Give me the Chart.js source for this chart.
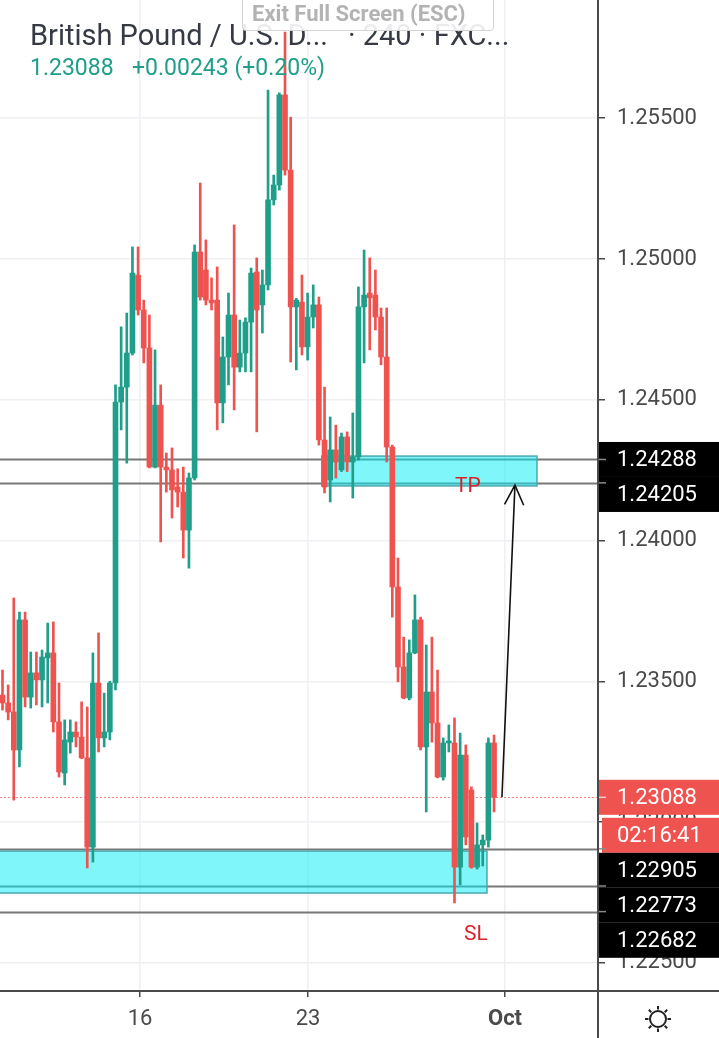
<!DOCTYPE html>
<html>
<head>
<meta charset="utf-8">
<script src="https://cdn.jsdelivr.net/npm/chart.js@4.4.1/dist/chart.umd.min.js"></script>
<style>
  html, body { margin: 0; padding: 0; background: #fff; }
  #wrap { position: relative; width: 719px; height: 1038px; overflow: hidden; font-family: Roboto, sans-serif; }
  #chart { position: absolute; left: 0; top: 0; }
  .txt { position: absolute; white-space: pre; line-height: 1; }
  #title1 { left: 30px; top: 21px; font-size: 29px; color: #363a45; }
  #title2 { left: 348px; top: 21px; font-size: 29px; color: #363a45; }
  #price { left: 30px; top: 56px; font-size: 23px; color: #1f9e89; }
  #change { left: 132px; top: 56px; font-size: 23px; color: #1f9e89; }
  #exit { position: absolute; left: 242px; top: -10px; width: 252px; height: 41px; box-sizing: border-box;
          border: 1.5px solid #d4d4d4; border-radius: 4px; background: rgba(255,255,255,0.9); }
  #exit span { position: absolute; left: 9px; top: 12px; font-size: 22px; font-weight: bold; color: #b3b3b3; line-height: 1; white-space: pre; }
</style>
</head>
<body>
<div id="wrap">
  <canvas id="chart" width="719" height="1038"></canvas>
  <div class="txt" id="title1">British Pound / U.S. D...</div>
  <div class="txt" id="title2">· 240 · FXC...</div>
  <div class="txt" id="price">1.23088</div>
  <div class="txt" id="change">+0.00243 (+0.20%)</div>
  <div id="exit"><span>Exit Full Screen (ESC)</span></div>
</div>
<script>
// GBP/USD 4h candles, oldest first
const openPrices = [
  1.23451, 1.23423, 1.23391, 1.23256, 1.23718, 1.23444, 1.23530, 1.23505, 1.23583, 1.23601,
  1.23356, 1.23174, 1.23284, 1.23320, 1.23302, 1.23228, 1.22911, 1.23494, 1.23299, 1.23320,
  1.23494, 1.24492, 1.24545, 1.24666, 1.24943, 1.24819, 1.24684, 1.24261, 1.24481, 1.24261,
  1.24251, 1.24190, 1.24172, 1.24037, 1.24222, 1.25025, 1.24961, 1.24854, 1.24854, 1.24489,
  1.24652, 1.24801, 1.24616, 1.24666, 1.24776, 1.24954, 1.24837, 1.24908, 1.25210, 1.25263,
  1.25583, 1.25316, 1.24830, 1.24847, 1.24688, 1.24794, 1.24837, 1.24357, 1.24215, 1.24322,
  1.24251, 1.24368, 1.24279, 1.24297, 1.24830, 1.24879, 1.24872, 1.24794, 1.24652, 1.24332,
  1.23835, 1.23551, 1.23441, 1.23601, 1.23718, 1.23267, 1.23462, 1.23352, 1.23160, 1.23281,
  1.23281, 1.22840, 1.23238, 1.23114, 1.22840, 1.22919, 1.22936, 1.23281
];
const highPrices = [
  1.23540, 1.23487, 1.23796, 1.23746, 1.23746, 1.23604, 1.23604, 1.23611, 1.23707, 1.23711,
  1.23494, 1.23363, 1.23363, 1.23356, 1.23427, 1.23409, 1.23601, 1.23672, 1.23458, 1.23500,
  1.24553, 1.24759, 1.24808, 1.25043, 1.25043, 1.24854, 1.24801, 1.24677, 1.24553, 1.24311,
  1.24329, 1.24255, 1.24261, 1.24240, 1.25050, 1.25270, 1.25068, 1.24933, 1.24972, 1.24723,
  1.24879, 1.25121, 1.24783, 1.24791, 1.24968, 1.25004, 1.24961, 1.25600, 1.25298, 1.25590,
  1.25806, 1.25504, 1.24860, 1.24943, 1.24879, 1.24908, 1.24865, 1.24545, 1.24439, 1.24410,
  1.24382, 1.24386, 1.24453, 1.24901, 1.25032, 1.25004, 1.24961, 1.24826, 1.24826, 1.24339,
  1.23938, 1.23657, 1.23647, 1.23807, 1.23728, 1.23629, 1.23657, 1.23540, 1.23299, 1.23345,
  1.23370, 1.23316, 1.23274, 1.23125, 1.22997, 1.22954, 1.23299, 1.23309
];
const lowPrices = [
  1.23398, 1.23363, 1.23078, 1.23196, 1.23409, 1.23405, 1.23416, 1.23409, 1.23423, 1.23320,
  1.23160, 1.23132, 1.23245, 1.23267, 1.23225, 1.22837, 1.22858, 1.23249, 1.23267, 1.23292,
  1.23469, 1.24393, 1.24275, 1.24659, 1.24801, 1.24631, 1.24258, 1.24258, 1.23995, 1.24172,
  1.24080, 1.24119, 1.23938, 1.23902, 1.24215, 1.24854, 1.24837, 1.24819, 1.24393, 1.24418,
  1.24553, 1.24464, 1.24599, 1.24599, 1.24599, 1.24386, 1.24737, 1.24890, 1.25192, 1.25245,
  1.25298, 1.24634, 1.24606, 1.24659, 1.24641, 1.24755, 1.24339, 1.24169, 1.24137, 1.24222,
  1.24245, 1.24245, 1.24151, 1.24286, 1.24631, 1.24677, 1.24748, 1.24624, 1.24279, 1.23728,
  1.23498, 1.23438, 1.23434, 1.23598, 1.23256, 1.23036, 1.23284, 1.23157, 1.23149, 1.23249,
  1.22713, 1.22777, 1.22919, 1.22836, 1.22833, 1.22844, 1.22911, 1.23036
];
const closePrices = [
  1.23423, 1.23391, 1.23256, 1.23718, 1.23444, 1.23530, 1.23505, 1.23586, 1.23601, 1.23356,
  1.23178, 1.23292, 1.23320, 1.23302, 1.23228, 1.22911, 1.23494, 1.23299, 1.23320, 1.23494,
  1.24492, 1.24545, 1.24666, 1.24950, 1.24819, 1.24684, 1.24261, 1.24481, 1.24261, 1.24251,
  1.24180, 1.24172, 1.24037, 1.24222, 1.25025, 1.24865, 1.24854, 1.24844, 1.24489, 1.24652,
  1.24801, 1.24616, 1.24666, 1.24776, 1.24950, 1.24819, 1.24908, 1.25210, 1.25263, 1.25583,
  1.25316, 1.24830, 1.24854, 1.24688, 1.24794, 1.24837, 1.24357, 1.24190, 1.24322, 1.24279,
  1.24368, 1.24279, 1.24297, 1.24830, 1.24872, 1.24862, 1.24794, 1.24652, 1.24332, 1.23835,
  1.23551, 1.23441, 1.23601, 1.23718, 1.23267, 1.23462, 1.23352, 1.23160, 1.23281, 1.23285,
  1.22840, 1.23238, 1.22947, 1.22840, 1.22919, 1.22936, 1.23281, 1.23088
];

// time axis: candle-index positions of the date ticks
const dateTicks = [24.34, 54.07, 88.94];
const dateLabels = ['16', '23', 'Oct'];
const priceTicks = [1.225, 1.230, 1.235, 1.240, 1.245, 1.250, 1.255];

// drawn levels
const levelPrices = [1.24288, 1.24205, 1.22905, 1.22773, 1.22682];
const lastPrice = 1.23088;
const countdown = '02:16:41';
const tpZone = {from: 56.5, to: 94.6, top: 1.24300, bottom: 1.24194};
const slZone = {from: -2, to: 85.75, top: 1.22897, bottom: 1.22748};
const arrowFrom = {x: 88.4, y: 1.23088};
const arrowTo = {x: 90.7, y: 1.24197};

const UP = '#1f9e89', DOWN = '#ef5350';
const idx = openPrices.map((_, i) => i);
const colors = idx.map(i => closePrices[i] >= openPrices[i] ? UP : DOWN);

const overlay = {
    id: 'overlay',
    beforeDatasetsDraw(chart) {
        const {ctx, chartArea: a, scales: {x, y}} = chart;
        ctx.save();
        ctx.beginPath();
        ctx.rect(a.left, a.top, a.right - a.left, a.bottom - a.top);
        ctx.clip();
        // level lines
        ctx.strokeStyle = '#787878';
        ctx.lineWidth = 2;
        levelPrices.forEach(p => {
            const py = Math.round(y.getPixelForValue(p)) + 0.5;
            ctx.beginPath(); ctx.moveTo(a.left, py); ctx.lineTo(a.right, py); ctx.stroke();
        });
        // zones
        [tpZone, slZone].forEach(z => {
            const x0 = x.getPixelForValue(z.from), x1 = x.getPixelForValue(z.to);
            const y0 = y.getPixelForValue(z.top), y1 = y.getPixelForValue(z.bottom);
            ctx.fillStyle = 'rgba(0, 238, 245, 0.5)';
            ctx.fillRect(x0, y0, x1 - x0, y1 - y0);
            ctx.strokeStyle = '#4aa9b0';
            ctx.lineWidth = 1.5;
            ctx.strokeRect(x0, y0, x1 - x0, y1 - y0);
        });
        // last price dotted line
        const ly = Math.round(y.getPixelForValue(lastPrice)) + 0.5;
        ctx.strokeStyle = '#f08a86';
        ctx.lineWidth = 1;
        ctx.setLineDash([2, 2]);
        ctx.beginPath(); ctx.moveTo(a.left, ly); ctx.lineTo(a.right, ly); ctx.stroke();
        ctx.restore();
    },
    afterDraw(chart) {
        const {ctx, chartArea: a, scales: {x, y}} = chart;
        const W = chart.width, H = chart.height;
        ctx.save();
        // arrow
        const ax0 = x.getPixelForValue(arrowFrom.x), ay0 = y.getPixelForValue(arrowFrom.y);
        const ax1 = x.getPixelForValue(arrowTo.x), ay1 = y.getPixelForValue(arrowTo.y);
        ctx.strokeStyle = '#111';
        ctx.lineWidth = 1.6;
        ctx.beginPath(); ctx.moveTo(ax0, ay0); ctx.lineTo(ax1, ay1); ctx.stroke();
        const ang = Math.atan2(ay0 - ay1, ax0 - ax1);
        ctx.beginPath();
        ctx.moveTo(ax1 + 22 * Math.cos(ang - 0.45), ay1 + 22 * Math.sin(ang - 0.45));
        ctx.lineTo(ax1, ay1);
        ctx.lineTo(ax1 + 22 * Math.cos(ang + 0.45), ay1 + 22 * Math.sin(ang + 0.45));
        ctx.stroke();
        // TP / SL
        ctx.fillStyle = '#d8232a';
        ctx.font = '21px Roboto';
        ctx.textBaseline = 'middle';
        ctx.fillText('TP', 455, y.getPixelForValue(tpZone.bottom) + 1);
        ctx.fillText('SL', 464, 935);

        // axis lines extended
        ctx.strokeStyle = '#4a4a4a';
        ctx.lineWidth = 2;
        ctx.beginPath(); ctx.moveTo(0, a.bottom); ctx.lineTo(W, a.bottom); ctx.stroke();
        ctx.beginPath(); ctx.moveTo(a.right, 0); ctx.lineTo(a.right, H); ctx.stroke();

        // right-axis labels
        const h = 35;
        const label = (txt, cy, bg, x0, tickY) => {
            ctx.fillStyle = bg;
            ctx.fillRect(x0, cy - h / 2, W - x0, h);
            ctx.strokeStyle = bg === '#000' ? '#8a8a8a' : '#f7c6c5';
            ctx.lineWidth = 1.5;
            if (tickY !== null) {
                ctx.beginPath(); ctx.moveTo(a.right + 1, tickY); ctx.lineTo(a.right + 8, tickY); ctx.stroke();
            }
            ctx.fillStyle = '#fff';
            ctx.font = '22px Roboto';
            ctx.textBaseline = 'middle';
            ctx.fillText(txt, 617, cy + 1);
        };
        let bottom = -1e9;
        const place = p => {
            const py = y.getPixelForValue(p);
            const cy = Math.max(py, bottom + h / 2);
            bottom = cy + h / 2;
            return [cy, py];
        };
        const above = levelPrices.filter(p => p > lastPrice).sort((m, n) => n - m);
        const below = levelPrices.filter(p => p < lastPrice).sort((m, n) => n - m);
        above.forEach(p => { const [cy, py] = place(p); label(p.toFixed(5), cy, '#000', a.right + 1, py); });
        const [lc, lp] = place(lastPrice);
        label(lastPrice.toFixed(5), lc, '#ef5350', a.right + 1, lp);
        const cc = lc + h + 3;
        label(countdown, cc, '#ef5350', a.right + 4, null);
        bottom = cc + h / 2;
        below.forEach(p => { const [cy, py] = place(p); label(p.toFixed(5), cy, '#000', a.right + 1, py); });

        // settings icon
        const gx = 658, gy = 1019;
        ctx.strokeStyle = '#222';
        ctx.lineWidth = 2;
        ctx.beginPath(); ctx.arc(gx, gy, 8, 0, Math.PI * 2); ctx.stroke();
        for (let k = 0; k < 8; k++) {
            const t = k * Math.PI / 4;
            ctx.beginPath();
            ctx.moveTo(gx + 9.5 * Math.cos(t), gy + 9.5 * Math.sin(t));
            ctx.lineTo(gx + 13 * Math.cos(t), gy + 13 * Math.sin(t));
            ctx.stroke();
        }
        ctx.restore();
    }
};

new Chart(document.getElementById('chart'), {
    type: 'bar',
    data: {
        datasets: [{
            label: 'body',
            data: idx.map(i => ({x: i, y: [openPrices[i], closePrices[i]]})),
            backgroundColor: colors,
            barThickness: 5,
            minBarLength: 2,
            grouped: false
        }, {
            label: 'wick',
            data: idx.map(i => ({x: i, y: [lowPrices[i], highPrices[i]]})),
            backgroundColor: colors,
            barThickness: 2,
            grouped: false
        }]
    },
    options: {
        responsive: false,
        animation: false,
        layout: {padding: 0},
        plugins: {legend: {display: false}, tooltip: {enabled: false}},
        scales: {
            x: {
                type: 'linear',
                min: -0.4425,
                max: 105.4,
                offset: false,
                grid: {offset: false, color: '#eef0f3', tickColor: '#4a4a4a', tickLength: 6, lineWidth: 1.5},
                border: {color: '#4a4a4a', width: 2},
                afterBuildTicks: s => { s.ticks = dateTicks.map(v => ({value: v})); },
                afterFit: s => { s.height = 47; s.paddingLeft = 0; s.paddingRight = 0; },
                ticks: {
                    autoSkip: false,
                    maxRotation: 0,
                    padding: 9,
                    color: '#4a4a4a',
                    font: c => ({family: 'Roboto', size: 22, weight: c.index === 2 ? 'bold' : 'normal'}),
                    callback: (v, i) => dateLabels[i]
                }
            },
            y: {
                position: 'right',
                min: 1.2240,
                max: 1.2592,
                grid: {color: '#eef0f3', tickColor: '#4a4a4a', tickLength: 7, lineWidth: 1.5},
                border: {color: '#4a4a4a', width: 2},
                afterBuildTicks: s => { s.ticks = priceTicks.map(v => ({value: v})); },
                afterFit: s => { s.width = 121; s.paddingTop = 0; s.paddingBottom = 0; },
                ticks: {
                    padding: 12,
                    color: '#4a4a4a',
                    font: {family: 'Roboto', size: 22},
                    callback: v => v.toFixed(5)
                }
            }
        }
    },
    plugins: [overlay]
});
</script>
</body>
</html>
